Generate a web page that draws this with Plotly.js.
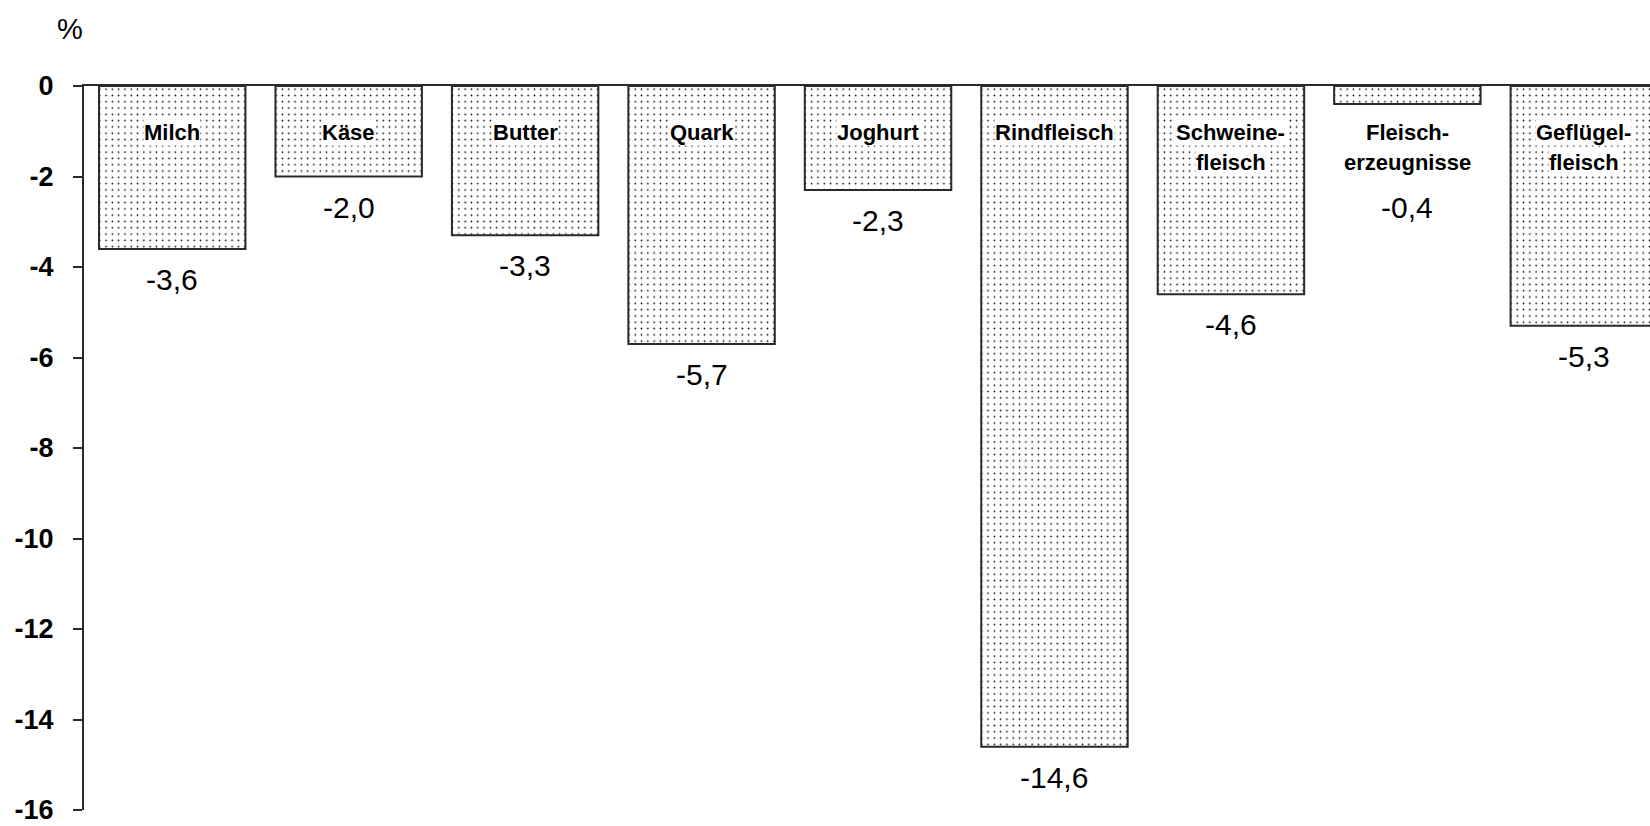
<!DOCTYPE html>
<html><head><meta charset="utf-8">
<script src="https://cdn.plot.ly/plotly-3.0.1.min.js"></script>
<style>html,body{margin:0;padding:0;background:#fff;}#chart{width:1650px;height:826px;}</style>
</head><body><div id="chart"></div>
<script>
const categories = ['Milch','Käse','Butter','Quark','Joghurt','Rindfleisch','Schweinefleisch','Fleischerzeugnisse','Geflügelfleisch'];
const categoryLines = [['Milch'],['Käse'],['Butter'],['Quark'],['Joghurt'],['Rindfleisch'],['Schweine-','fleisch'],['Fleisch-','erzeugnisse'],['Geflügel-','fleisch']];
const changes = [-3.6,-2.0,-3.3,-5.7,-2.3,-14.6,-4.6,-0.4,-5.3];
const valueLabels = ['-3,6','-2,0','-3,3','-5,7','-2,3','-14,6','-4,6','-0,4','-5,3'];
const yTickVals = [0,-2,-4,-6,-8,-10,-12,-14,-16];
const yTickText = ['0','-2','-4','-6','-8','-10','-12','-14','-16'];
const unitLabel = '%';

const lineCol = '#2a2a2a';
const labelFloor = -2.0; // value labels of very short bars go below the category text

const trace = {
  type: 'bar',
  x: categories,
  y: changes,
  width: 0.83,
  marker: {
    color: '#ffffff',
    line: {color: lineCol, width: 2},
    pattern: {shape: '.', fgcolor: '#000000', bgcolor: '#ffffff', size: 6.3, solidity: 0.055, fillmode: 'replace'}
  },
  hoverinfo: 'skip'
};

const annotations = [];
categories.forEach((c, i) => {
  categoryLines[i].forEach((ln, j) => {
    annotations.push({
      x: c, y: 0, xref: 'x', yref: 'y', text: ln, showarrow: false,
      xanchor: 'center', yanchor: 'top', yshift: -33 - j * 30,
      bgcolor: '#ffffff', borderpad: 0,
      font: {family: '"Liberation Sans", Arial, sans-serif', size: 22, color: '#000', weight: 'bold'}
    });
  });
  annotations.push({
    x: c, y: Math.min(changes[i], labelFloor), xref: 'x', yref: 'y', text: valueLabels[i], showarrow: false,
    xanchor: 'center', yanchor: 'top', yshift: -12,
    font: {family: '"Liberation Sans", Arial, sans-serif', size: 30, color: '#000'}
  });
});
annotations.push({
  x: 0, y: 1, xref: 'paper', yref: 'paper', text: unitLabel, showarrow: false,
  xanchor: 'right', yanchor: 'bottom', xshift: 1, yshift: 39,
  font: {family: '"Liberation Sans", Arial, sans-serif', size: 29, color: '#000'}
});

const layout = {
  width: 1650, height: 826,
  margin: {l: 84, r: 0, t: 86, b: 16},
  paper_bgcolor: '#ffffff', plot_bgcolor: '#ffffff',
  showlegend: false,
  xaxis: {
    type: 'category', range: [-0.5, 8.375], side: 'top',
    showline: true, linecolor: lineCol, linewidth: 2,
    ticks: '', showticklabels: false, showgrid: false, zeroline: false, fixedrange: true
  },
  yaxis: {
    range: [-16, 0], tickvals: yTickVals, ticktext: yTickText,
    showline: true, linecolor: lineCol, linewidth: 2,
    ticks: 'outside', ticklen: 9, tickwidth: 2, tickcolor: lineCol,
    ticklabelstandoff: 14, ticklabeloverflow: 'allow',
    showgrid: false, zeroline: false, fixedrange: true,
    tickfont: {family: '"Liberation Sans", Arial, sans-serif', size: 27, color: '#000', weight: 'bold'}
  },
  annotations: annotations
};

Plotly.newPlot('chart', [trace], layout, {displayModeBar: false, staticPlot: true});
</script></body></html>
